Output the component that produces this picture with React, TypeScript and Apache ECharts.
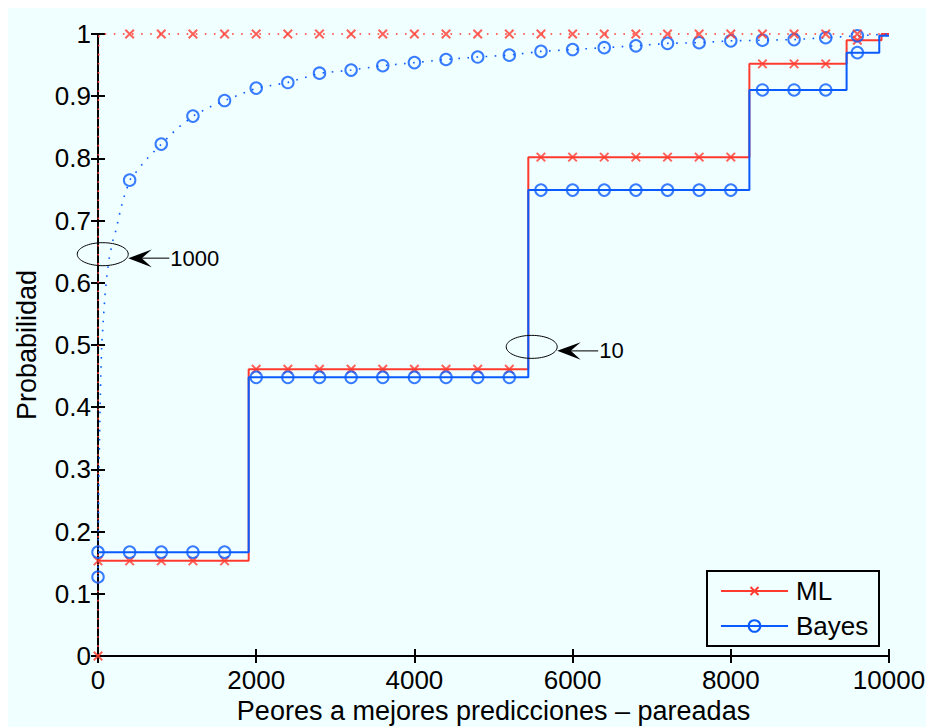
import React, { useEffect, useRef } from 'react';
import * as echarts from 'echarts';

// ---- data ----
const X_TICKS_INTERVAL = 2000;
const Y_TICKS_INTERVAL = 0.1;

// step curves ("10")
const ML10_STEP_X = [0, 1905, 5440, 8235, 9464, 9905, 10000];
const ML10_STEP_Y = [0.153, 0.461, 0.802, 0.952, 0.99, 1.0, 1.0];
const BAYES10_STEP_X = [0, 1905, 5440, 8235, 9464, 9877, 10000];
const BAYES10_STEP_Y = [0.167, 0.448, 0.749, 0.91, 0.97, 0.997, 0.997];

// marker positions
const MARK_X = [0, 400, 800, 1200, 1600, 2000, 2400, 2800, 3200, 3600, 4000, 4400, 4800, 5200, 5600, 6000, 6400, 6800, 7200, 7600, 8000, 8400, 8800, 9200, 9600];
const ML10_MARK_Y = [0.153, 0.153, 0.153, 0.153, 0.153, 0.461, 0.461, 0.461, 0.461, 0.461, 0.461, 0.461, 0.461, 0.461, 0.802, 0.802, 0.802, 0.802, 0.802, 0.802, 0.802, 0.952, 0.952, 0.952, 0.99];
const BAYES10_MARK_Y = [0.167, 0.167, 0.167, 0.167, 0.167, 0.448, 0.448, 0.448, 0.448, 0.448, 0.448, 0.448, 0.448, 0.448, 0.749, 0.749, 0.749, 0.749, 0.749, 0.749, 0.749, 0.91, 0.91, 0.91, 0.97];
const ML1000_MARK_Y = [0, 1, 1, 1, 1, 1, 1, 1, 1, 1, 1, 1, 1, 1, 1, 1, 1, 1, 1, 1, 1, 1, 1, 1, 1];
const BAYES1000_MARK_Y = [0.127, 0.765, 0.823, 0.868, 0.893, 0.913, 0.922, 0.937, 0.942, 0.949, 0.954, 0.959, 0.963, 0.966, 0.972, 0.975, 0.978, 0.981, 0.985, 0.986, 0.989, 0.99, 0.991, 0.994, 0.997];

// dotted curves ("1000")
const ML1000_X = [0, 2, 5, 10, 10000];
const ML1000_Y = [0, 0.5, 0.9, 1, 1];
const BAYES1000_X = [0, 4, 10, 18, 25, 35, 47, 67, 88, 110, 139, 160, 186, 228, 270, 316, 400, 600, 800, 1000, 1200, 1400, 1600, 2000, 2400, 2800, 3200, 3600, 4000, 4400, 4800, 5200, 5600, 6000, 6400, 6800, 7200, 7600, 8000, 8400, 8800, 9200, 9600, 10000];
const BAYES1000_Y = [0.127, 0.2, 0.28, 0.34, 0.39, 0.45, 0.5, 0.54, 0.58, 0.609, 0.638, 0.651, 0.667, 0.685, 0.709, 0.733, 0.765, 0.797, 0.823, 0.848, 0.868, 0.882, 0.893, 0.913, 0.922, 0.937, 0.942, 0.949, 0.954, 0.959, 0.963, 0.966, 0.972, 0.975, 0.978, 0.981, 0.985, 0.986, 0.989, 0.99, 0.991, 0.994, 0.997, 1.0];

// annotations (ellipse centre in data coords)
const ANNOT_X = [60, 5483];
const ANNOT_Y = [0.646, 0.497];
const ANNOT_LABELS = ['1000', '10'];

const LEGEND_NAMES = ['ML', 'Bayes'];
const X_NAME = 'Peores a mejores predicciones – pareadas';
const Y_NAME = 'Probabilidad';

const RED = '#ff3b30';
const BLUE = '#0a5bff';
const BG = '#f0ffff';
const FONT = '"Liberation Sans", Arial, Helvetica, sans-serif';

const zip = (xs: number[], ys: number[]) => xs.map((x, i) => [x, ys[i]]);

const X_PATH = 'path://M0,0L10,10M10,0L0,10';

export default function App() {
  const ref = useRef<HTMLDivElement>(null);

  useEffect(() => {
    document.body.style.overflow = 'hidden';
    const chart = echarts.init(ref.current!, null, { renderer: 'svg' });

    const axisLine = { show: true, lineStyle: { color: '#000', width: 2 } };
    const axisTick = { show: true, inside: true, length: 7, lineStyle: { color: '#000', width: 2 } };
    const labelStyle = { color: '#000', fontSize: 26, fontFamily: FONT };
    const nameStyle = { color: '#000', fontSize: 27, fontFamily: FONT };

    const xBase = { type: 'value', min: 0, max: 10000, interval: X_TICKS_INTERVAL, splitLine: { show: false }, axisLine, axisTick };
    const yBase = { type: 'value', min: 0, max: 1, interval: Y_TICKS_INTERVAL, splitLine: { show: false }, axisLine, axisTick };

    const stepLine = (name: string, xs: number[], ys: number[], color: string) => ({
      name, type: 'line', step: 'end', data: zip(xs, ys), symbol: 'none', clip: false, silent: true,
      lineStyle: { color, width: 2 }, z: 3,
    });
    const dotLine = (name: string, xs: number[], ys: number[], color: string) => ({
      name, type: 'line', data: zip(xs, ys), symbol: 'none', clip: false, silent: true,
      lineStyle: { color, width: 1.6, type: [1.6, 7.5] }, z: 3,
    });
    const marks = (name: string, ys: number[], color: string, isX: boolean, z: number) => ({
      name, type: 'scatter', data: zip(MARK_X, ys), clip: false, silent: true,
      symbol: isX ? X_PATH : 'circle', symbolSize: isX ? 8.5 : 11.5,
      itemStyle: { color: 'transparent', borderColor: color, borderWidth: 2 }, z,
    });

    chart.setOption({
      animation: false,
      backgroundColor: BG,
      textStyle: { fontFamily: FONT },
      grid: { left: 90, top: 26, width: 791, height: 622, containLabel: false, outerBoundsMode: 'none' },
      xAxis: [
        { ...xBase, position: 'bottom', axisLabel: { ...labelStyle, margin: 11, formatter: (v: number) => String(v) },
          name: X_NAME, nameLocation: 'middle', nameGap: 39, nameTextStyle: { ...nameStyle } },
        { ...xBase, position: 'top', axisLabel: { show: false } },
      ],
      yAxis: [
        { ...yBase, position: 'left', axisLabel: { ...labelStyle, margin: 7 },
          name: Y_NAME, nameLocation: 'middle', nameGap: 58, nameTextStyle: { ...nameStyle } },
        { ...yBase, position: 'right', axisLabel: { show: false } },
      ],
      series: [
        stepLine('ML10', ML10_STEP_X, ML10_STEP_Y, RED),
        stepLine('Bayes10', BAYES10_STEP_X, BAYES10_STEP_Y, BLUE),
        dotLine('ML1000', ML1000_X, ML1000_Y, RED),
        dotLine('Bayes1000', BAYES1000_X, BAYES1000_Y, BLUE),
        marks('ML10m', ML10_MARK_Y, RED, true, 4),
        marks('Bayes10m', BAYES10_MARK_Y, BLUE, false, 5),
        marks('Bayes1000m', BAYES1000_MARK_Y, BLUE, false, 6),
        marks('ML1000m', ML1000_MARK_Y, RED, true, 7),
      ],
    });

    const graphics: any[] = [];
    ANNOT_X.forEach((ax, i) => {
      const [cx, cy] = chart.convertToPixel({ xAxisIndex: 0, yAxisIndex: 0 }, [ax, ANNOT_Y[i]]) as number[];
      const rx = 25.5, ry = 11.5;
      const tx = cx + rx, ty = cy + 4;
      graphics.push(
        { type: 'ellipse', shape: { cx, cy, rx, ry }, style: { fill: 'none', stroke: '#000', lineWidth: 1 }, z: 100 },
        { type: 'line', shape: { x1: tx + 12, y1: ty, x2: tx + 41, y2: ty }, style: { stroke: '#333', lineWidth: 1.3 }, z: 100 },
        { type: 'polygon', shape: { points: [[tx, ty], [tx + 23.5, ty - 8.6], [tx + 13.5, ty], [tx + 23.5, ty + 9]] }, style: { fill: '#000' }, z: 100 },
        { type: 'text', x: tx + 42, y: ty, style: { text: ANNOT_LABELS[i], fontSize: 22, fontFamily: FONT, fill: '#000', verticalAlign: 'middle', align: 'left' }, z: 100 },
      );
    });

    // legend box
    const lx = 699, ly = 563, lw = 172, lh = 75;
    graphics.push({ type: 'rect', shape: { x: lx, y: ly, width: lw, height: lh }, style: { fill: BG, stroke: '#000', lineWidth: 2 }, z: 100 });
    const rows = [ly + 20, ly + 55];
    const colors = [RED, BLUE];
    LEGEND_NAMES.forEach((nm, i) => {
      const y = rows[i];
      graphics.push({ type: 'line', shape: { x1: lx + 14, y1: y, x2: lx + 81, y2: y }, style: { stroke: colors[i], lineWidth: 2 }, z: 101 });
      const mx = lx + 47.5;
      if (i === 0) {
        graphics.push({ type: 'line', shape: { x1: mx - 4, y1: y - 4, x2: mx + 4, y2: y + 4 }, style: { stroke: RED, lineWidth: 2 }, z: 102 });
        graphics.push({ type: 'line', shape: { x1: mx + 4, y1: y - 4, x2: mx - 4, y2: y + 4 }, style: { stroke: RED, lineWidth: 2 }, z: 102 });
      } else {
        graphics.push({ type: 'circle', shape: { cx: mx, cy: y, r: 5.8 }, style: { fill: 'none', stroke: BLUE, lineWidth: 2 }, z: 102 });
      }
      graphics.push({ type: 'text', x: lx + 89, y, style: { text: nm, fontSize: 26, fontFamily: FONT, fill: '#000', verticalAlign: 'middle', align: 'left' }, z: 102 });
    });

    chart.setOption({ graphic: graphics });

    return () => chart.dispose();
  }, []);

  return <div ref={ref} style={{ width: 926, height: 719, background: BG }} />;
}
